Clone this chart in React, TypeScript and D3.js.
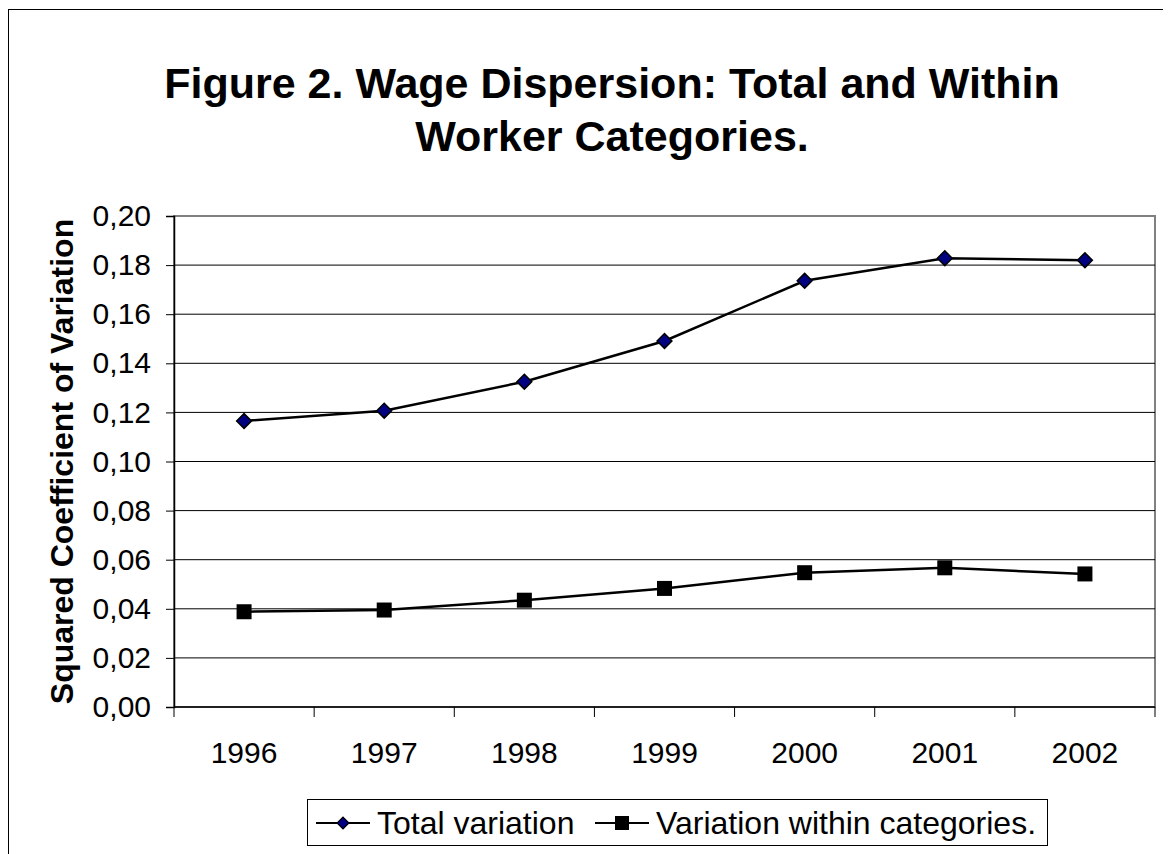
import { useRef, useEffect } from 'react';
import * as d3 from 'd3';

const years = ['1996', '1997', '1998', '1999', '2000', '2001', '2002'];
const totalVariation = [0.1165, 0.1207, 0.1325, 0.1491, 0.1736, 0.1828, 0.1820];
const withinVariation = [0.0388, 0.0395, 0.0435, 0.0483, 0.0547, 0.0567, 0.0542];
const yTicks = [0, 0.02, 0.04, 0.06, 0.08, 0.1, 0.12, 0.14, 0.16, 0.18, 0.2];

export default function App() {
  const svgRef = useRef<SVGSVGElement>(null);

  useEffect(() => {
    if (!svgRef.current) return;

    const width = 1163;
    const height = 846;
    // plot area in svg coordinates (svg sits at 8,8)
    const margin = { top: 208, right: 16, bottom: 147, left: 166 };
    const font = 'Arial, "Liberation Sans", sans-serif';

    const svg = d3.select(svgRef.current)
      .attr('width', width)
      .attr('height', height);

    svg.selectAll('*').remove();

    // outer frame
    svg.append('rect')
      .attr('x', 0.5).attr('y', 1.5)
      .attr('width', width - 1).attr('height', height + 20)
      .attr('fill', 'white').attr('stroke', '#000').attr('stroke-width', 1);

    const x = d3.scaleBand()
      .domain(years)
      .range([margin.left, width - margin.right]);

    const y = d3.scaleLinear()
      .domain([0, 0.2])
      .range([height - margin.bottom, margin.top]);

    const x0 = margin.left;
    const x1 = width - margin.right;
    const y0 = height - margin.bottom;
    const y1 = margin.top;

    // title
    const title = svg.append('text')
      .attr('text-anchor', 'middle')
      .attr('font-family', font)
      .attr('font-weight', 'bold')
      .attr('font-size', 43)
      .attr('fill', '#000');
    title.append('tspan').attr('x', 604).attr('y', 90).text('Figure 2. Wage Dispersion: Total and Within');
    title.append('tspan').attr('x', 604).attr('y', 143).text('Worker Categories.');

    // plot border (gray top/right)
    svg.append('rect')
      .attr('x', x0).attr('y', y1)
      .attr('width', x1 - x0).attr('height', y0 - y1)
      .attr('fill', 'none').attr('stroke', '#808080').attr('stroke-width', 2);

    // gridlines
    svg.append('g')
      .selectAll('line')
      .data(yTicks.filter(t => t > 0 && t < 0.2))
      .join('line')
      .attr('x1', x0).attr('x2', x1)
      .attr('y1', d => y(d)).attr('y2', d => y(d))
      .attr('stroke', '#000').attr('stroke-width', 1);

    // y axis
    const yAxis = d3.axisLeft(y)
      .tickValues(yTicks)
      .tickSize(8)
      .tickPadding(15)
      .tickFormat(d => d3.format('.2f')(d as number).replace('.', ','));

    const yg = svg.append('g')
      .attr('transform', `translate(${x0},0)`)
      .call(yAxis);
    yg.selectAll('text')
      .attr('font-family', font)
      .attr('font-size', 30)
      .attr('fill', '#000');
    yg.selectAll('line').attr('stroke', '#000');
    yg.select('.domain').attr('stroke', '#000').attr('stroke-width', 1.5);

    // x axis: ticks on band boundaries
    const xg = svg.append('g');
    xg.append('line')
      .attr('x1', x0).attr('x2', x1)
      .attr('y1', y0).attr('y2', y0)
      .attr('stroke', '#000').attr('stroke-width', 1.5);
    const boundaries = [...years.map(d => x(d)!), x1];
    xg.selectAll('line.tick')
      .data(boundaries)
      .join('line')
      .attr('class', 'tick')
      .attr('x1', d => d).attr('x2', d => d)
      .attr('y1', y0).attr('y2', y0 + 10)
      .attr('stroke', '#000');
    xg.selectAll('text')
      .data(years)
      .join('text')
      .attr('x', d => x(d)! + x.bandwidth() / 2)
      .attr('y', y0 + 56)
      .attr('text-anchor', 'middle')
      .attr('font-family', font)
      .attr('font-size', 30)
      .attr('fill', '#000')
      .text(d => d);

    // y axis title
    svg.append('text')
      .attr('transform', `translate(65,${(y0 + y1) / 2}) rotate(-90)`)
      .attr('text-anchor', 'middle')
      .attr('font-family', font)
      .attr('font-weight', 'bold')
      .attr('font-size', 32)
      .attr('fill', '#000')
      .text('Squared Coefficient of Variation');

    const cx = (i: number) => x(years[i])! + x.bandwidth() / 2;
    const line = d3.line<number>()
      .x((_, i) => cx(i))
      .y(d => y(d));

    // total variation line + diamonds
    svg.append('path')
      .datum(totalVariation)
      .attr('fill', 'none')
      .attr('stroke', '#000')
      .attr('stroke-width', 2.5)
      .attr('d', line);

    const diamond = d3.symbol().type(d3.symbolSquare).size(110)();
    svg.append('g')
      .selectAll('path')
      .data(totalVariation)
      .join('path')
      .attr('d', diamond)
      .attr('transform', (d, i) => `translate(${cx(i)},${y(d)}) rotate(45)`)
      .attr('fill', '#000080')
      .attr('stroke', '#000')
      .attr('stroke-width', 1.5);

    // within categories line + squares
    svg.append('path')
      .datum(withinVariation)
      .attr('fill', 'none')
      .attr('stroke', '#000')
      .attr('stroke-width', 2.5)
      .attr('d', line);

    svg.append('g')
      .selectAll('rect')
      .data(withinVariation)
      .join('rect')
      .attr('x', (_, i) => cx(i) - 7.5)
      .attr('y', d => y(d) - 7.5)
      .attr('width', 15)
      .attr('height', 15)
      .attr('fill', '#000');

    // legend
    const lg = svg.append('g').attr('transform', 'translate(299,791)');
    lg.append('rect')
      .attr('x', 0.5).attr('y', 0.5)
      .attr('width', 740).attr('height', 46)
      .attr('fill', 'white').attr('stroke', '#000').attr('stroke-width', 1);
    const ly = 24;
    lg.append('line').attr('x1', 9).attr('x2', 63).attr('y1', ly).attr('y2', ly)
      .attr('stroke', '#000').attr('stroke-width', 2);
    lg.append('path')
      .attr('d', d3.symbol().type(d3.symbolSquare).size(70)())
      .attr('transform', `translate(36,${ly}) rotate(45)`)
      .attr('fill', '#000080').attr('stroke', '#000').attr('stroke-width', 1.2);
    lg.append('text')
      .attr('x', 70).attr('y', ly + 11)
      .attr('font-family', font).attr('font-size', 32).attr('fill', '#000')
      .text('Total variation');
    lg.append('line').attr('x1', 288).attr('x2', 342).attr('y1', ly).attr('y2', ly)
      .attr('stroke', '#000').attr('stroke-width', 2);
    lg.append('rect')
      .attr('x', 308).attr('y', ly - 7).attr('width', 14).attr('height', 14)
      .attr('fill', '#000');
    lg.append('text')
      .attr('x', 349).attr('y', ly + 11)
      .attr('font-family', font).attr('font-size', 32).attr('fill', '#000')
      .text('Variation within categories.');
  }, []);

  return (
    <div>
      <svg ref={svgRef} style={{ display: 'block' }}></svg>
    </div>
  );
}
